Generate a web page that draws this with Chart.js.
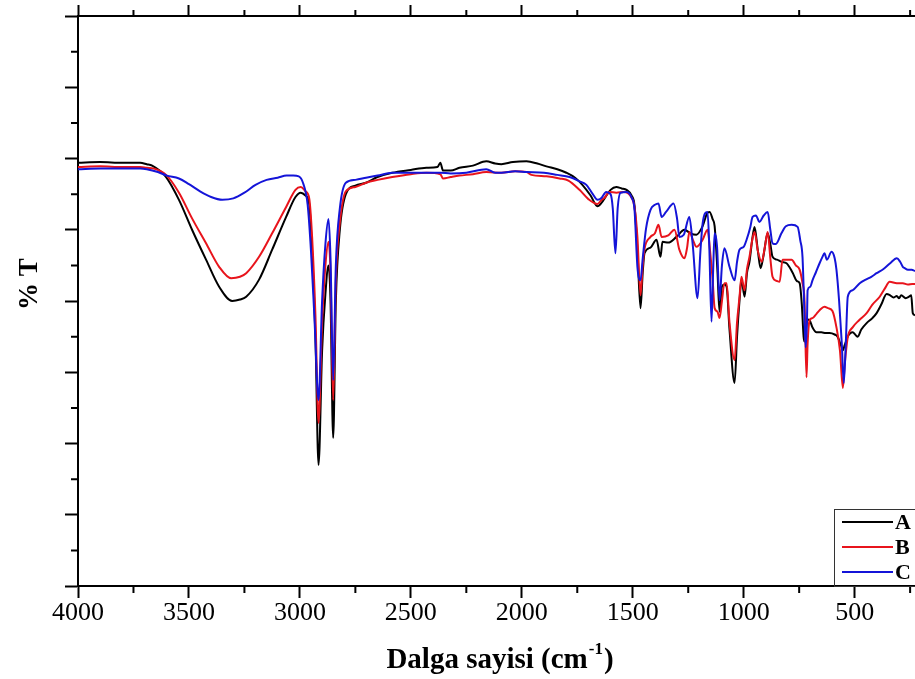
<!DOCTYPE html>
<html>
<head>
<meta charset="utf-8">
<title>FTIR</title>
<script src="https://cdn.jsdelivr.net/npm/chart.js@4.4.1/dist/chart.umd.min.js"></script>
<style>
  html, body { margin: 0; padding: 0; background: #fff; }
  #wrap { width: 915px; height: 679px; }
</style>
</head>
<body>
<div id="wrap"><canvas id="ftirChart" width="915" height="679"></canvas></div>
<script>
// dalga sayisi (cm-1) ve % T degerleri
const seriesNames = ['A', 'B', 'C'];
const seriesColors = ['#000000', '#e8141c', '#1414d8'];
const xTickValues = [4000, 3500, 3000, 2500, 2000, 1500, 1000, 500];
const yTickValues = [0, 10, 20, 30, 40, 50, 60, 70, 80];

const wnA = [4000,3900,3800,3720,3690,3666,3603,3545,3486,3423,3364,3305,3270,3242,3184,3125,3062,3020,2996,2975,2958,2945,2930,2916,2900,2885,2871,2862,2850,2838,2820,2793,2750,2702,2650,2584,2500,2430,2380,2367,2355,2320,2281,2220,2160,2120,2092,2040,1979,1930,1889,1840,1799,1760,1727,1690,1659,1640,1627,1600,1574,1550,1528,1505,1492,1479,1465,1455,1447,1420,1393,1375,1366,1340,1303,1267,1240,1213,1185,1165,1154,1140,1131,1118,1109,1098,1087,1077,1064,1041,1030,1019,1010,996,985,974,960,951,936,924,910,892,880,870,850,830,807,780,760,748,738,730,726,720,712,703,690,672,650,630,613,590,577,562,553,545,531,509,495,486,470,446,420,401,380,356,340,325,310,300,290,270,255,245,238,228];
const tA = [59.4,59.5,59.4,59.4,59.2,59.0,57.4,54.2,50.0,45.8,42.0,40.0,40.2,40.6,43.0,47.2,51.8,54.6,55.2,54.8,53.6,47.0,35.0,17.0,33.0,41.0,45.0,40.0,20.8,40.0,50.0,55.0,56.2,56.6,57.4,58.0,58.4,58.7,58.8,59.4,58.3,58.3,58.7,59.0,59.6,59.3,59.2,59.5,59.6,59.3,58.9,58.5,58.0,57.3,56.3,54.8,53.3,53.8,54.4,55.6,56.0,55.8,55.6,54.8,53.4,47.2,39.0,44.0,46.7,47.5,48.6,46.2,48.3,48.2,49.0,50.0,49.5,49.3,50.5,52.3,52.5,51.5,50.5,44.0,38.5,42.0,42.3,42.0,36.0,28.5,35.0,40.0,43.0,40.6,44.0,45.5,49.0,50.4,47.0,44.6,46.5,49.5,48.0,46.2,45.8,45.5,45.3,44.0,42.8,42.5,39.5,35.0,34.3,36.0,37.4,37.3,36.3,35.6,35.6,35.5,35.5,35.3,35.0,33.8,33.1,33.8,35.0,35.6,35.2,35.0,36.0,36.9,37.6,38.3,39.5,41.0,40.8,40.5,40.7,40.4,40.8,40.4,40.6,40.8,38.3,38.0];

const wnB = [4000,3900,3800,3720,3690,3660,3603,3545,3486,3423,3364,3310,3270,3242,3184,3125,3062,3020,2996,2975,2958,2945,2930,2916,2900,2885,2871,2862,2850,2838,2820,2793,2750,2702,2650,2584,2500,2430,2367,2355,2320,2281,2220,2160,2092,2030,1979,1957,1889,1830,1790,1740,1700,1659,1640,1627,1605,1574,1540,1505,1492,1479,1465,1455,1447,1420,1400,1384,1370,1340,1312,1290,1267,1255,1245,1228,1213,1185,1163,1150,1140,1131,1118,1109,1098,1087,1077,1064,1041,1030,1019,1010,996,985,974,960,951,936,919,905,892,880,870,850,838,825,800,784,765,748,735,726,717,712,703,690,672,658,636,620,600,582,566,553,545,531,509,480,446,420,387,365,342,310,283,260,240,228];
const tB = [58.8,58.9,58.8,58.8,58.7,58.6,57.7,55.2,51.6,48.1,44.8,43.2,43.4,43.9,46.2,49.5,53.2,55.6,56.0,55.4,54.4,49.0,38.0,22.9,37.0,45.0,48.3,44.0,26.1,43.0,51.0,55.4,56.0,56.6,57.0,57.4,57.8,58.0,57.8,57.2,57.4,57.6,57.8,58.1,58.0,58.2,58.1,57.7,57.5,57.2,56.9,55.6,54.3,53.6,54.2,54.5,55.3,55.2,55.3,54.5,53.2,49.0,40.8,45.0,47.3,49.0,49.5,50.7,49.0,49.2,50.0,47.2,46.0,47.5,49.7,48.5,47.6,48.6,50.0,46.5,43.0,39.0,38.5,37.6,40.0,42.5,42.5,37.0,31.7,37.0,40.5,43.4,41.5,44.5,46.2,48.8,49.7,47.0,45.5,47.5,49.7,46.0,43.4,42.8,42.7,45.8,45.8,45.8,45.0,44.4,42.5,40.1,29.3,34.0,37.3,37.6,38.2,38.7,39.2,39.0,38.6,36.3,33.0,27.8,31.0,34.9,36.3,37.3,38.3,39.5,40.6,41.7,42.7,42.5,42.5,42.3,42.4,42.4];

const wnC = [4000,3900,3800,3720,3690,3640,3600,3545,3500,3450,3400,3350,3300,3250,3200,3150,3100,3060,3030,3005,2985,2965,2950,2935,2916,2900,2885,2871,2862,2850,2838,2820,2793,2750,2702,2650,2584,2500,2430,2367,2320,2250,2160,2120,2092,2030,1979,1900,1840,1785,1740,1709,1680,1659,1640,1620,1600,1590,1578,1568,1555,1528,1505,1492,1479,1465,1455,1440,1420,1400,1384,1370,1350,1316,1300,1290,1270,1245,1230,1208,1195,1185,1163,1155,1145,1137,1131,1120,1109,1098,1087,1064,1041,1030,1019,1000,987,970,960,945,929,910,892,880,870,855,830,810,784,757,745,735,728,721,715,712,700,690,675,658,645,636,625,604,590,582,570,558,549,540,531,510,477,450,425,401,370,340,310,295,283,274,260,243,228];
const tC = [58.5,58.6,58.6,58.6,58.5,58.1,57.6,57.2,56.4,55.4,54.6,54.2,54.4,55.2,56.3,57.0,57.3,57.6,57.6,57.5,56.5,53.5,47.0,38.0,26.1,40.0,48.0,51.5,46.0,28.9,45.0,53.0,56.6,57.0,57.3,57.6,58.0,58.0,58.0,58.0,57.9,58.0,58.5,58.0,58.0,58.2,58.1,58.0,57.7,57.4,56.8,56.3,55.0,54.2,54.5,55.3,55.0,53.0,46.7,53.0,55.2,55.3,54.5,52.8,44.8,42.9,46.0,50.2,52.8,53.5,53.7,51.8,52.5,53.7,51.5,49.0,49.3,51.8,48.0,40.4,47.0,50.9,52.5,47.6,37.1,45.0,49.5,47.6,40.1,45.0,47.4,44.8,42.9,45.5,47.2,47.6,48.6,50.4,51.8,52.0,51.1,52.0,52.5,50.0,48.1,48.0,49.5,50.5,50.7,50.4,48.5,46.2,40.0,33.5,37.0,41.5,42.0,42.9,44.0,45.3,46.2,46.7,45.8,46.9,46.0,44.4,40.0,34.1,28.5,34.0,40.6,41.5,42.5,43.0,43.4,43.9,44.5,45.3,46.0,45.5,44.8,44.6,44.4,44.4,44.2];

const toPoints = (wn, t) => wn.map((x, i) => ({ x: x, y: t[i] }));

const X_MIN = 228, X_MAX = 4000;
const serifFont = "'Liberation Serif', 'Times New Roman', serif";

// ara cizgiler (minor ticks), eksen basliklari ve sag alttaki lejant
const decorPlugin = {
    id: 'decor',
    afterDraw(chart) {
        const c = chart.ctx;
        const xs = chart.scales.x;
        const ys = chart.scales.y;
        const area = chart.chartArea;
        c.save();
        c.strokeStyle = '#000';
        c.lineWidth = 2;
        c.beginPath();
        for (let v = 3750; v > X_MIN; v -= 500) {
            const px = xs.getPixelForValue(v);
            c.moveTo(px, area.bottom); c.lineTo(px, area.bottom + 7);
            c.moveTo(px, area.top); c.lineTo(px, area.top - 6);
        }
        for (let v = 5; v < 80; v += 10) {
            const py = ys.getPixelForValue(v);
            c.moveTo(area.left, py); c.lineTo(area.left - 7, py);
        }
        c.stroke();

        // x ekseni basligi (ust simge ile)
        c.fillStyle = '#000';
        c.textBaseline = 'alphabetic';
        const main = 'Dalga sayisi (cm';
        const sup = '-1';
        const close = ')';
        c.font = 'bold 29px ' + serifFont;
        const w1 = c.measureText(main).width;
        const w3 = c.measureText(close).width;
        c.font = 'bold 17px ' + serifFont;
        const w2 = c.measureText(sup).width;
        let x0 = 499 - (w1 + w2 + w3) / 2;
        const base = 668;
        c.font = 'bold 29px ' + serifFont;
        c.fillText(main, x0, base);
        c.font = 'bold 17px ' + serifFont;
        c.fillText(sup, x0 + w1 + 1, base - 14);
        c.font = 'bold 29px ' + serifFont;
        c.fillText(close, x0 + w1 + w2 + 2, base);

        // y ekseni basligi
        c.save();
        c.translate(37, 284);
        c.rotate(-Math.PI / 2);
        c.font = 'bold 27px ' + serifFont;
        c.textAlign = 'center';
        c.fillText('% T', 0, 0);
        c.restore();

        // lejant
        c.lineWidth = 1;
        c.strokeStyle = '#333';
        c.strokeRect(834.5, 509.5, 120, 77);
        c.font = 'bold 22px ' + serifFont;
        c.textBaseline = 'middle';
        chart.data.datasets.forEach((ds, i) => {
            const y = 522 + i * 25;
            c.strokeStyle = ds.borderColor;
            c.lineWidth = 2;
            c.beginPath();
            c.moveTo(842, y); c.lineTo(893, y);
            c.stroke();
            c.fillStyle = '#000';
            c.fillText(ds.label, 895, y + 1);
        });
        c.restore();
    }
};

const wnLists = [wnA, wnB, wnC];
const tLists = [tA, tB, tC];

const setXTicks = (s) => { s.ticks = xTickValues.map(v => ({ value: v })); };
const setYTicks = (s) => { s.ticks = yTickValues.map(v => ({ value: v })); };

new Chart(document.getElementById('ftirChart'), {
    type: 'line',
    data: {
        datasets: seriesNames.map((name, i) => ({
            label: name,
            data: toPoints(wnLists[i], tLists[i]),
            borderColor: seriesColors[i],
            borderWidth: 2,
            pointRadius: 0,
            fill: false,
            cubicInterpolationMode: 'monotone',
            order: 3 - i
        }))
    },
    options: {
        responsive: false,
        animation: false,
        layout: { padding: 0 },
        plugins: {
            legend: { display: false },
            tooltip: { enabled: false }
        },
        scales: {
            x: {
                type: 'linear',
                position: 'bottom',
                reverse: true,
                min: X_MIN,
                max: X_MAX,
                afterBuildTicks: setXTicks,
                afterFit: (s) => { s.height = 93; },
                border: { display: true, color: '#000', width: 2 },
                grid: { drawOnChartArea: false, drawTicks: true, tickLength: 12, tickWidth: 2, tickColor: '#000' },
                ticks: {
                    autoSkip: false,
                    maxRotation: 0,
                    padding: 0,
                    color: '#000',
                    font: { family: serifFont, size: 26 },
                    callback: (v) => String(v)
                }
            },
            x2: {
                type: 'linear',
                position: 'top',
                reverse: true,
                min: X_MIN,
                max: X_MAX,
                afterBuildTicks: setXTicks,
                afterFit: (s) => { s.height = 16; },
                border: { display: true, color: '#000', width: 2 },
                grid: { drawOnChartArea: false, drawTicks: true, tickLength: 11, tickWidth: 2, tickColor: '#000' },
                ticks: { display: false }
            },
            y: {
                type: 'linear',
                position: 'left',
                min: 0,
                max: 80,
                afterBuildTicks: setYTicks,
                afterFit: (s) => { s.width = 78; },
                border: { display: true, color: '#000', width: 2 },
                grid: { drawOnChartArea: false, drawTicks: true, tickLength: 13, tickWidth: 2, tickColor: '#000' },
                ticks: { display: false }
            }
        }
    },
    plugins: [decorPlugin]
});
</script>
</body>
</html>
